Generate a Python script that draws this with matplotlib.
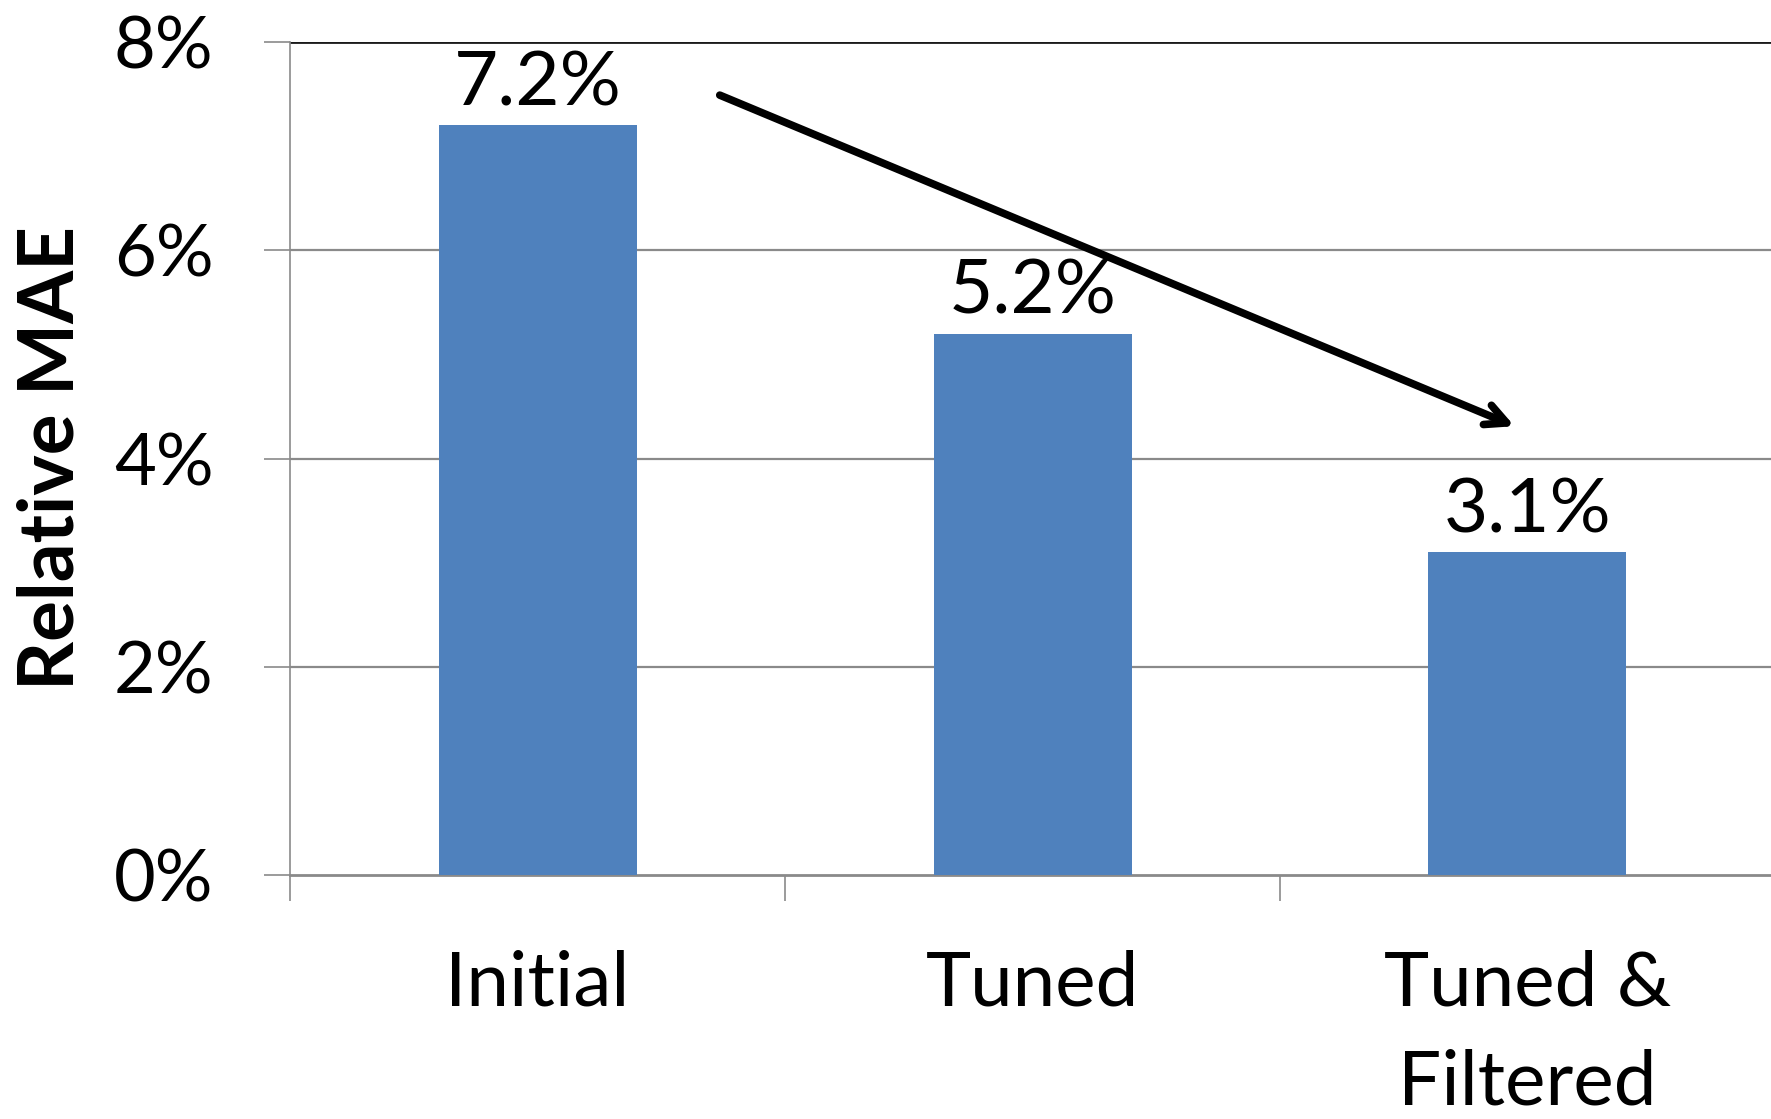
import numpy as np
import matplotlib
matplotlib.use('Agg')
import matplotlib.pyplot as plt
from matplotlib.ticker import FixedLocator

plt.rcParams['font.family'] = ['Lato', 'DejaVu Sans']

categories = ['Initial', 'Tuned', 'Tuned &\nFiltered']
mae = [7.2, 5.2, 3.1]
labels = ['7.2%', '5.2%', '3.1%']
yticks = [0, 2, 4, 6, 8]
ytick_labels = ['0%', '2%', '4%', '6%', '8%']

fig = plt.figure(figsize=(17.71, 11.19), dpi=100)
ax = fig.add_axes([290/1771, 1 - 875/1119, (1775-290)/1771, (875-42)/1119])

x = np.arange(len(categories))
ax.bar(x, mae, width=0.4, color='#4F81BD', zorder=3)

for xi, v, lab in zip(x, mae, labels):
    ax.annotate(lab, (xi, v), xytext=(0, 5), textcoords='offset points',
                ha='center', va='bottom', fontsize=55, color='black')

ax.set_xlim(-0.5, 2.5)
ax.set_ylim(0, 8)

# gridlines
for t in yticks[1:]:
    ax.axhline(t, color='#8a8a8a' if t < 8 else '#1a1a1a', lw=1.6 if t < 8 else 2.0, zorder=1)

ax.set_yticks(yticks)
ax.set_yticklabels(ytick_labels, fontsize=52)
ax.tick_params(axis='y', length=19, width=1.2, color='#8a8a8a', pad=36)

ax.set_xticks(x)
ax.set_xticklabels(categories, fontsize=55, linespacing=1.52)
ax.tick_params(axis='x', which='major', length=0, pad=54)
ax.xaxis.set_minor_locator(FixedLocator([-0.5, 0.5, 1.5, 2.5]))
ax.tick_params(axis='x', which='minor', length=19, width=1.2, color='#8a8a8a')

for s in ['top', 'right']:
    ax.spines[s].set_visible(False)
ax.spines['left'].set_color('#8a8a8a')
ax.spines['left'].set_linewidth(1.2)
ax.spines['bottom'].set_color('#8a8a8a')
ax.spines['bottom'].set_linewidth(2.0)

ax.set_ylabel('Relative MAE', fontsize=55, fontweight='bold', labelpad=20)

ax.annotate('', xy=(1.979, 4.30), xytext=(0.363, 7.50),
            arrowprops=dict(arrowstyle='->,head_length=1.5,head_width=0.75', lw=5.5, color='black'),
            zorder=5)

fig.savefig('out.png', dpi=100)
